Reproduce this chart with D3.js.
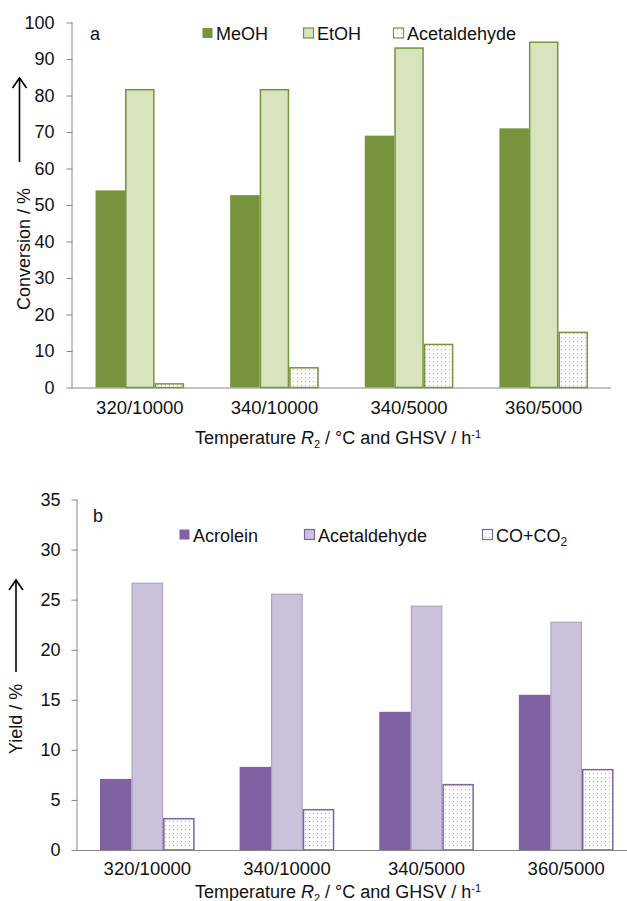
<!DOCTYPE html>
<html>
<head>
<meta charset="utf-8">
<script src="https://cdn.jsdelivr.net/npm/d3@7"></script>
<style>
html,body{margin:0;padding:0;background:#fff;overflow:hidden;}
svg{display:block;font-family:"Liberation Sans",Arial,sans-serif;}
</style>
</head>
<body>
<svg id="chart" width="627" height="901"></svg>
<script>
// ---- data ----
const categories = ["320/10000", "340/10000", "340/5000", "360/5000"];
const seriesA = ["MeOH", "EtOH", "Acetaldehyde"];
const meoh = [54, 52.7, 69, 71];
const etoh = [81.8, 81.8, 93.2, 94.8];
const acetaldehydeA = [1.2, 5.6, 12, 15.3];
const ticksA = [0, 10, 20, 30, 40, 50, 60, 70, 80, 90, 100];

const seriesB = ["Acrolein", "Acetaldehyde", "CO+CO2"];
const acrolein = [7.1, 8.3, 13.8, 15.5];
const acetaldehydeB = [26.7, 25.6, 24.4, 22.8];
const coco2 = [3.2, 4.1, 6.6, 8.1];
const ticksB = [0, 5, 10, 15, 20, 25, 30, 35];

const svg = d3.select("#chart");
const defs = svg.append("defs");

function dotPattern(id, dot) {
  const p = defs.append("pattern").attr("id", id).attr("patternUnits", "userSpaceOnUse")
    .attr("width", 4).attr("height", 4);
  p.append("rect").attr("width", 4).attr("height", 4).attr("fill", "#fff");
  p.append("rect").attr("x", 1).attr("y", 1).attr("width", 1).attr("height", 1).attr("fill", dot);
}
dotPattern("dotsG", "#a9b98c");
dotPattern("dotsP", "#b3a6c6");

const AX = "#868686";
const FS = 18;
const TXT = "#111";

function drawChart(cfg) {
  const g = svg.append("g");
  const y = d3.scaleLinear().domain(cfg.domain).range([cfg.y0, cfg.y1]);
  const x0 = d3.scaleBand().domain(categories).range([cfg.xl, cfg.xr]);
  const gw = x0.bandwidth() * cfg.groupFrac;
  const x1 = d3.scaleBand().domain(cfg.series.map(s => s.name)).range([0, gw]);

  // y axis
  const ya = g.append("g").attr("transform", `translate(${cfg.xl},0)`)
    .call(d3.axisLeft(y).tickValues(cfg.ticks).tickSize(6).tickPadding(cfg.tickPad));
  ya.select(".domain").attr("stroke", AX).attr("d", `M-0.5,${cfg.y1}V${cfg.y0}`);
  ya.selectAll(".tick line").attr("stroke", AX);
  ya.selectAll(".tick text").attr("font-size", FS).attr("fill", TXT)
    .attr("font-family", "Liberation Sans, Arial, sans-serif");

  // bars
  cfg.series.forEach(s => {
    g.append("g").selectAll("rect").data(s.values).join("rect")
      .attr("x", (d, i) => x0(categories[i]) + (x0.bandwidth() - gw) / 2 + x1(s.name) + s.inset)
      .attr("width", x1.bandwidth() - 2 * s.inset)
      .attr("y", d => y(d) + s.inset)
      .attr("height", d => Math.max(0, y(0) - y(d) - s.inset))
      .attr("fill", s.fill)
      .attr("stroke", s.stroke)
      .attr("stroke-width", s.sw);
  });

  // x axis
  const xa = g.append("g").attr("transform", `translate(0,${cfg.y0})`)
    .call(d3.axisBottom(x0).tickSize(0).tickPadding(cfg.xPad));
  xa.select(".domain").attr("stroke", AX).attr("d", `M${cfg.xl - 1},0.5H${cfg.xr}`);
  xa.selectAll(".tick text").attr("font-size", 18.5).attr("fill", TXT)
    .attr("font-family", "Liberation Sans, Arial, sans-serif");

  // x title
  const t = g.append("text").attr("x", cfg.titleX).attr("y", cfg.titleY)
    .attr("text-anchor", "middle").attr("font-size", FS).attr("fill", TXT);
  t.append("tspan").text("Temperature ");
  t.append("tspan").attr("font-style", "italic").text("R");
  t.append("tspan").attr("font-size", 11).attr("dy", 4).text("2");
  t.append("tspan").attr("dy", -4).text(" / °C and GHSV / h");
  t.append("tspan").attr("font-size", 11).attr("dy", -6).text("-1");

  // y title
  g.append("text").attr("transform", `translate(${cfg.ylabX},${cfg.ylabY}) rotate(-90)`)
    .attr("text-anchor", "middle").attr("font-size", FS).attr("fill", TXT).text(cfg.ylabel);

  // arrow
  g.append("line").attr("x1", cfg.arX).attr("x2", cfg.arX).attr("y1", cfg.arBot).attr("y2", cfg.arTop)
    .attr("stroke", "#000").attr("stroke-width", 1.6);
  g.append("path").attr("d", `M${cfg.arX - 7},${cfg.arTop + 10}L${cfg.arX},${cfg.arTop}L${cfg.arX + 7},${cfg.arTop + 10}`)
    .attr("fill", "none").attr("stroke", "#000").attr("stroke-width", 1.6);

  // panel letter
  g.append("text").attr("x", cfg.letterX).attr("y", cfg.letterY).attr("font-size", FS)
    .attr("fill", TXT).text(cfg.letter);

  // legend
  cfg.series.forEach((s, i) => {
    const lx = cfg.legX[i];
    g.append("rect").attr("x", lx + 0.5).attr("y", cfg.legY - 5.5).attr("width", 10).attr("height", 10)
      .attr("fill", s.fill).attr("stroke", s.legStroke).attr("stroke-width", 1.2);
    const tx = g.append("text").attr("x", lx + 14).attr("y", cfg.legY + 6.5)
      .attr("font-size", FS).attr("fill", TXT);
    if (s.name === "CO+CO2") {
      tx.append("tspan").text("CO+CO");
      tx.append("tspan").attr("font-size", 12).attr("dy", 4).text("2");
    } else {
      tx.text(s.name);
    }
  });
}

const G_DARK = "#77933c", G_LIGHT = "#d7e4bd";
const P_DARK = "#7f62a1", P_LIGHT = "#ccc1da";

drawChart({
  domain: [0, 100], y0: 387.5, y1: 22.5, xl: 72.5, xr: 611, groupFrac: 0.658,
  ticks: ticksA, tickPad: 12, xPad: 13,
  series: [
    { name: seriesA[0], values: meoh, fill: G_DARK, stroke: "none", sw: 0, inset: 0, legStroke: "none" },
    { name: seriesA[1], values: etoh, fill: G_LIGHT, stroke: G_DARK, sw: 1.5, inset: 0.75, legStroke: G_DARK },
    { name: seriesA[2], values: acetaldehydeA, fill: "url(#dotsG)", stroke: G_DARK, sw: 1.5, inset: 0.75, legStroke: G_DARK }
  ],
  titleX: 338, titleY: 444, ylabX: 30, ylabY: 249, ylabel: "Conversion / %",
  arX: 19.5, arTop: 78, arBot: 162, letter: "a", letterX: 90, letterY: 40,
  legX: [202, 303, 393], legY: 33.5
});

drawChart({
  domain: [0, 35], y0: 850, y1: 499.5, xl: 77.5, xr: 636, groupFrac: 0.678,
  ticks: ticksB, tickPad: 11, xPad: 12,
  series: [
    { name: seriesB[0], values: acrolein, fill: P_DARK, stroke: "none", sw: 0, inset: 0, legStroke: "none" },
    { name: seriesB[1], values: acetaldehydeB, fill: P_LIGHT, stroke: "#a898c0", sw: 1, inset: 0.5, legStroke: P_DARK },
    { name: seriesB[2], values: coco2, fill: "url(#dotsP)", stroke: P_DARK, sw: 1.5, inset: 0.75, legStroke: P_DARK }
  ],
  titleX: 338, titleY: 898, ylabX: 22, ylabY: 719, ylabel: "Yield / %",
  arX: 16, arTop: 580, arBot: 672, letter: "b", letterX: 93, letterY: 522,
  legX: [179, 304, 482], legY: 535
});
</script>
</body>
</html>
